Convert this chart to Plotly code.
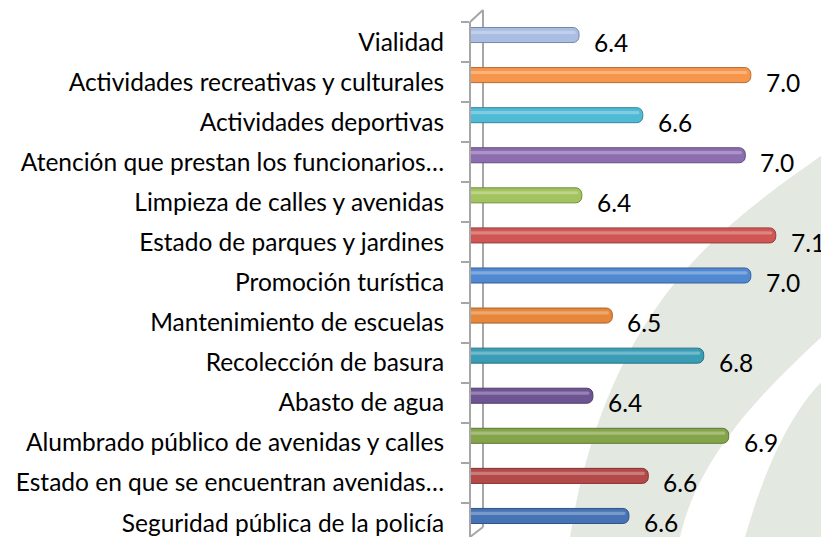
import plotly.graph_objects as go

# categories listed bottom -> top (plotly puts the first category at the bottom)
categories = [
    "Seguridad pública de la policía",
    "Estado en que se encuentran avenidas…",
    "Alumbrado público de avenidas y calles",
    "Abasto de agua",
    "Recolección de basura",
    "Mantenimiento de escuelas",
    "Promoción turística",
    "Estado de parques y jardines",
    "Limpieza de calles y avenidas",
    "Atención que prestan los funcionarios…",
    "Actividades deportivas",
    "Actividades recreativas y culturales",
    "Vialidad",
]
scores = [6.57, 6.64, 6.93, 6.44, 6.84, 6.51, 7.01, 7.10, 6.40, 6.99, 6.62, 7.01, 6.39]
bar_colors = [
    "#4573B5", "#B44A48", "#84A449", "#6E5493", "#3A9DB6", "#E6873B",
    "#5088D2", "#D05653", "#A2C35E", "#8C6DB0", "#4FBAD6", "#F7964A", "#A9BEE2",
]

# the page body has an 8px margin, so the figure is drawn 8px in from the window edge
PAGE_PAD = 8
W_FIG, H_FIG = 829 - PAGE_PAD, 537 - PAGE_PAD
L, R, T, B = 463, 20, 14, 0
PW, PH = W_FIG - L - R, H_FIG - T - B
FONT = "Lato"
FONT_SIZE = 24.5


def darker(hex_color, f=0.72):
    h = hex_color.lstrip("#")
    r, g, b = (int(h[i:i + 2], 16) for i in (0, 2, 4))
    return f"rgb({int(r * f)},{int(g * f)},{int(b * f)})"


# helpers taking window pixel positions
def px(x):
    return (x - PAGE_PAD - L) / PW


def py(y):
    return 1 - (y - PAGE_PAD - T) / PH


def pt(x, y):
    return f"{px(x):.4f},{py(y):.4f}"


fig = go.Figure()

# cylinder body
fig.add_trace(
    go.Bar(
        x=scores,
        y=categories,
        orientation="h",
        width=0.375,
        offset=-0.0125,
        marker=dict(
            color=bar_colors,
            line=dict(color=[darker(c) for c in bar_colors], width=1),
            cornerradius=6,
        ),
        hoverinfo="x+y",
        showlegend=False,
    )
)
# highlight strip to fake the shine on the cylinder
fig.add_trace(
    go.Bar(
        x=[s - 0.012 for s in scores],
        y=categories,
        orientation="h",
        width=0.08,
        offset=0.2,
        marker=dict(color="rgba(255,255,255,0.28)", line=dict(width=0), cornerradius=3),
        hoverinfo="skip",
        showlegend=False,
    )
)

for cat, val in zip(categories, scores):
    fig.add_annotation(
        x=val, y=cat, text=f"{val:.1f}", showarrow=False,
        xanchor="left", yanchor="middle", xshift=13,
        font=dict(family=FONT, size=FONT_SIZE, color="#000000"),
    )

shapes = [
    # watermark leaf
    dict(
        type="path", xref="paper", yref="paper", layer="below",
        path=(f"M {pt(829, 150)} C {pt(740, 215)} {pt(610, 290)} {pt(570, 537)} "
              f"L {pt(829, 537)} Z"),
        fillcolor="#E3E8E1", line=dict(width=0),
    ),
    dict(
        type="path", xref="paper", yref="paper", layer="below",
        path=(f"M {pt(829, 330)} C {pt(770, 385)} {pt(700, 450)} {pt(680, 537)} "
              f"L {pt(745, 537)} C {pt(770, 450)} {pt(800, 400)} {pt(829, 375)} Z"),
        fillcolor="#FFFFFF", line=dict(width=0),
    ),
]
# back edge of the 3D wall
wall = [((483, 10), (483, 527)), ((470, 22), (483, 10)), ((470, 537), (483, 527))]
for (x0, y0), (x1, y1) in wall:
    shapes.append(
        dict(
            type="line", xref="paper", yref="paper", layer="below",
            x0=px(x0), y0=py(y0), x1=px(x1), y1=py(y1),
            line=dict(color="#A6A6A6", width=2),
        )
    )

fig.update_layout(
    width=W_FIG,
    height=H_FIG,
    margin=dict(l=L, r=R, t=T, b=B, autoexpand=False),
    paper_bgcolor="white",
    plot_bgcolor="rgba(0,0,0,0)",
    font=dict(family=FONT, size=FONT_SIZE, color="#000000"),
    barmode="overlay",
    shapes=shapes,
    xaxis=dict(range=[6, 7.22], visible=False, automargin=False),
    yaxis=dict(
        range=[-0.35, 12.5],
        automargin=False,
        showline=True,
        linecolor="#A6A6A6",
        linewidth=2,
        ticks="outside",
        ticklen=8,
        tickwidth=2,
        tickcolor="#A6A6A6",
        tickson="boundaries",
        ticklabelstandoff=20,
        showgrid=False,
        tickfont=dict(family=FONT, size=FONT_SIZE, color="#000000"),
    ),
)

fig.write_html("out.html")
